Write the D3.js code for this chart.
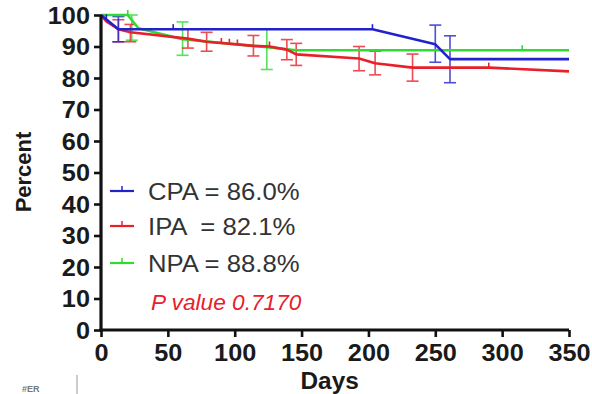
<!DOCTYPE html>
<html>
<head>
<meta charset="utf-8">
<script src="https://cdn.jsdelivr.net/npm/d3@7/dist/d3.min.js"></script>
<style>
  html, body { margin: 0; padding: 0; background: #fff; }
  svg { display: block; }
  text { white-space: pre; }
</style>
</head>
<body>
<svg id="chart" width="592" height="394"></svg>
<script>
// ---- Data ----
const xTicks = [0, 50, 100, 150, 200, 250, 300, 350];
const yTicks = [0, 10, 20, 30, 40, 50, 60, 70, 80, 90, 100];

// CPA survival curve [day, percent]
const cpaDays   = [0, 13, 203, 250, 261, 350];
const cpaValues = [100, 95.5, 95.5, 90.7, 86.0, 86.0];
// CPA error bars [day, low, high]
const cpaErrDays = [13, 250, 261];
const cpaErrLow  = [91.5, 85.0, 78.5];
const cpaErrHigh = [99.5, 96.8, 93.4];
const cpaCensorDays = [4, 54, 203];

// IPA survival curve
const ipaDays   = [0, 4, 13, 22, 65, 79, 114, 126, 139, 146, 193, 205, 233, 290, 350];
const ipaValues = [100, 98, 95.5, 94.5, 92.5, 91.5, 90.2, 90.0, 89.0, 87.5, 86.2, 84.7, 83.3, 83.3, 82.1];
const ipaErrDays = [13, 22, 65, 79, 114, 139, 146, 193, 205, 233];
const ipaErrLow  = [91.5, 91.5, 89.5, 88.5, 87.0, 85.8, 84.0, 82.3, 81.0, 79.0];
const ipaErrHigh = [98.5, 97.0, 95.5, 94.5, 93.5, 92.2, 91.0, 90.0, 88.5, 87.6];
const ipaCensorDays = [90, 96, 102, 126, 290];

// NPA survival curve
const npaDays   = [0, 20, 28, 61, 124, 146, 350];
const npaValues = [100, 100, 95.8, 92.3, 89.8, 88.8, 88.8];
const npaErrDays = [23, 61, 124];
const npaErrLow  = [92.0, 87.2, 82.7];
const npaErrHigh = [100.0, 97.8, 95.5];
const npaCensorDays = [20, 315];

const seriesNames  = ["CPA", "IPA", "NPA"];
const legendLabels = ["CPA = 86.0%", "IPA  = 82.1%", "NPA = 88.8%"];
const pValueText   = "P value 0.7170";
const xTitle = "Days";
const yTitle = "Percent";

// ---- Build ----
const colors = { CPA: "#2222cc", IPA: "#e8202a", NPA: "#2fdc2f" };
const series = [
  { name: "CPA", days: cpaDays, values: cpaValues, errDays: cpaErrDays, errLow: cpaErrLow, errHigh: cpaErrHigh, censor: cpaCensorDays },
  { name: "IPA", days: ipaDays, values: ipaValues, errDays: ipaErrDays, errLow: ipaErrLow, errHigh: ipaErrHigh, censor: ipaCensorDays },
  { name: "NPA", days: npaDays, values: npaValues, errDays: npaErrDays, errLow: npaErrLow, errHigh: npaErrHigh, censor: npaCensorDays }
];

const svg = d3.select("#chart");
const x = d3.scaleLinear().domain([0, 350]).range([101, 569]);
const y = d3.scaleLinear().domain([0, 100]).range([330, 15]);
const font = "'Liberation Sans', Arial, Helvetica, sans-serif";

function stretch(sel, k) {
  sel.each(function () {
    const w = this.getComputedTextLength();
    d3.select(this).attr("textLength", w * k).attr("lengthAdjust", "spacingAndGlyphs");
  });
}

function interp(s, d) {
  return d3.scaleLinear().domain(s.days).range(s.values).clamp(true)(d);
}

const line = d3.line().x(d => x(d[0])).y(d => y(d[1]));
const draw = ["NPA", "IPA", "CPA"].map(n => series.find(s => s.name === n));

// error bars
draw.forEach(s => {
  const g = svg.append("g").attr("stroke", colors[s.name]).attr("stroke-width", 1.6).attr("opacity", 0.8).attr("fill", "none");
  s.errDays.forEach((d, i) => {
    const cx = x(d), y1 = y(s.errLow[i]), y2 = y(s.errHigh[i]);
    g.append("line").attr("x1", cx).attr("x2", cx).attr("y1", y1).attr("y2", y2);
    g.append("line").attr("x1", cx - 6).attr("x2", cx + 6).attr("y1", y1).attr("y2", y1);
    g.append("line").attr("x1", cx - 6).attr("x2", cx + 6).attr("y1", y2).attr("y2", y2);
  });
});

// curves
draw.forEach(s => {
  svg.append("path")
    .datum(s.days.map((d, i) => [d, s.values[i]]))
    .attr("d", line)
    .attr("fill", "none")
    .attr("stroke", colors[s.name])
    .attr("stroke-width", 2.6)
    .attr("stroke-linejoin", "round");
  s.censor.forEach(d => {
    const cy = y(interp(s, d));
    svg.append("line").attr("x1", x(d)).attr("x2", x(d)).attr("y1", cy).attr("y2", cy - 5)
      .attr("stroke", colors[s.name]).attr("stroke-width", 1.6);
  });
});

// axes
const xAxis = svg.append("g").attr("transform", "translate(0,330)")
  .call(d3.axisBottom(x).tickValues(xTicks).tickSize(7).tickPadding(6).tickSizeOuter(0));
const yAxis = svg.append("g").attr("transform", "translate(101,0)")
  .call(d3.axisLeft(y).tickValues(yTicks).tickSize(7).tickPadding(4).tickSizeOuter(0));
[xAxis, yAxis].forEach(a => {
  a.select(".domain").attr("stroke", "#111").attr("stroke-width", 3.2);
  a.selectAll(".tick line").attr("stroke", "#111").attr("stroke-width", 2.6);
  a.selectAll(".tick text").attr("fill", "#1a1a1a").style("font-family", font)
    .style("font-size", "23px").style("font-weight", "bold");
  stretch(a.selectAll(".tick text"), 1.1);
});
xAxis.select(".domain").attr("d", `M${x(0) - 1.5},0H${x(350)}`);
yAxis.select(".domain").attr("d", `M0,${y(100)}V${y(0) + 1.5}`);
xAxis.selectAll(".tick text").attr("dy", "0.78em");
yAxis.selectAll(".tick text").attr("dy", "0.36em");

// axis titles
const xt = svg.append("text").attr("x", x(171)).attr("y", 389).attr("text-anchor", "middle")
  .style("font-family", font).style("font-size", "23px").style("font-weight", "bold").attr("fill", "#1a1a1a")
  .text(xTitle);
stretch(xt, 1.06);
svg.append("text").attr("transform", "translate(31,172) rotate(-90)").attr("text-anchor", "middle")
  .style("font-family", font).style("font-size", "22px").style("font-weight", "bold").attr("fill", "#1a1a1a")
  .text(yTitle);

// legend
const legendY = [191, 226, 263];
series.forEach((s, i) => {
  const ly = legendY[i];
  svg.append("line").attr("x1", 110).attr("x2", 134).attr("y1", ly).attr("y2", ly)
    .attr("stroke", colors[s.name]).attr("stroke-width", 2.2);
  svg.append("line").attr("x1", 122).attr("x2", 122).attr("y1", ly).attr("y2", ly - 5)
    .attr("stroke", colors[s.name]).attr("stroke-width", 1.5);
  const t = svg.append("text").attr("x", 148).attr("y", ly + 8.5)
    .attr("xml:space", "preserve")
    .style("font-family", font).style("font-size", "24px").attr("fill", "#333")
    .text(legendLabels[i]);
  stretch(t, 1.07);
});
const pt = svg.append("text").attr("x", 151).attr("y", 310)
  .style("font-family", font).style("font-size", "22px").style("font-style", "italic").attr("fill", "#e8202a")
  .text(pValueText);
stretch(pt, 1.03);

// cropped artifact at bottom-left of the source figure
svg.append("line").attr("x1", 77).attr("x2", 77).attr("y1", 375).attr("y2", 394).attr("stroke", "#999").attr("stroke-width", 1);
svg.append("text").attr("x", 22).attr("y", 392).style("font-family", font).style("font-size", "9px")
  .style("font-weight", "bold").attr("fill", "#777").text("#ER");
</script>
</body>
</html>
